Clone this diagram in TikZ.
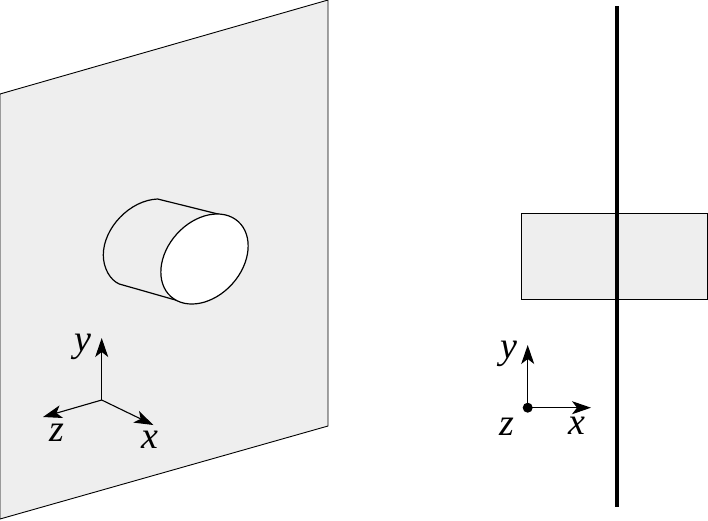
\documentclass[tikz,border=0pt]{standalone}
\usepackage{fontspec}
\setmainfont{Liberation Serif}
\usetikzlibrary{arrows.meta}
\definecolor{plategrey}{HTML}{EEEEEE}
\tikzset{
  outline/.style={draw=black,line width=1.2pt,line join=round},
  axis/.style={draw=black,line width=1.1pt,-{Stealth[length=19pt,width=13pt,inset=5pt]}},
  axislabel/.style={inner sep=0pt,font=\fontsize{38}{38}\selectfont\itshape}
}
\begin{document}
\begin{tikzpicture}[x=1pt,y=-1pt]
\useasboundingbox (0,0) rectangle (708,520);
% plate
\fill[plategrey,draw=black,line width=0.9pt,line join=miter] (0,94) -- (328,0) -- (328,426) -- (0,519) -- cycle;
% cylinder
\draw[outline] (226,216) -- (157.7,199) .. controls (130,200) and (103.3,228) .. (103.3,255)
  .. controls (103.3,268) and (110,280) .. (119.3,284) -- (186,303);
\draw[outline,fill=white,rotate around={48:(204.5,259)}] (204.5,259) ellipse [x radius=50.4,y radius=37.3];
% left axes
\coordinate (oL) at (101.7,400);
\coordinate (yL) at (101.7,338);
\coordinate (xL) at (153.3,425);
\coordinate (zL) at (43,417);
\draw[axis] (oL) -- (yL);
\draw[axis] (oL) -- (xL);
\draw[axis] (oL) -- (zL);
\node[axislabel] (ly1) at (83,347) {y};
\node[axislabel] (lz1) at (57,433) {z};
\node[axislabel] (lx1) at (150,440) {x};
% right: section
\draw[fill=plategrey,draw=black,line width=0.8pt] (521,213) rectangle (707,299);
\draw[line width=4pt] (617,6) -- (617,507);
% right axes
\coordinate (oR) at (527.7,407.7);
\coordinate (yR) at (527.7,345);
\coordinate (xR) at (591,407.7);
\draw[axis] (oR) -- (yR);
\draw[axis] (oR) -- (xR);
\fill (oR) circle (5);
\node[axislabel] (ly2) at (509,354) {y};
\node[axislabel] (lz2) at (507,427) {z};
\node[axislabel] (lx2) at (577,426) {x};
\end{tikzpicture}
\end{document}
